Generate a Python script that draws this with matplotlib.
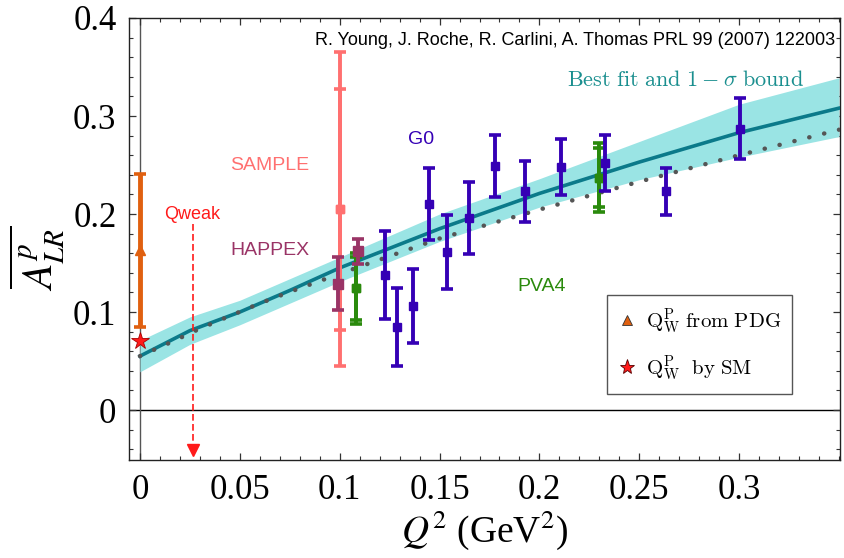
import matplotlib
matplotlib.use("Agg")
import matplotlib.pyplot as plt
from matplotlib.lines import Line2D
from matplotlib.font_manager import FontProperties
from matplotlib.ticker import MultipleLocator

plt.rcParams["font.family"] = ["Liberation Serif", "DejaVu Serif"]
plt.rcParams["mathtext.fontset"] = "stix"

# --- best fit curve + 1-sigma band ---
fit_q2 = [0.0, 0.025, 0.05, 0.075, 0.1, 0.15, 0.2, 0.25, 0.3, 0.35]
fit_a = [0.055, 0.081, 0.100, 0.122, 0.145, 0.185, 0.221, 0.253, 0.283, 0.308]
fit_lo = [0.039, 0.067, 0.087, 0.109, 0.131, 0.172, 0.207, 0.235, 0.258, 0.279]
fit_hi = [0.071, 0.095, 0.112, 0.134, 0.156, 0.200, 0.236, 0.274, 0.312, 0.339]

# dotted (SM running) curve
sm_q2 = [0.0, 0.015, 0.03, 0.045, 0.06, 0.075, 0.1, 0.15, 0.2, 0.25, 0.3, 0.35]
sm_a = [0.055, 0.0687, 0.083, 0.096, 0.1088, 0.1205, 0.139, 0.175, 0.2045, 0.233, 0.260, 0.286]

# --- data sets ---
g0_q2 = [0.1225, 0.1285, 0.1367, 0.1445, 0.1535, 0.1645, 0.178, 0.193, 0.211, 0.233, 0.2635, 0.3005]
g0_a = [0.138, 0.085, 0.106, 0.210, 0.161, 0.196, 0.249, 0.223, 0.248, 0.252, 0.223, 0.287]
g0_err = [0.045, 0.040, 0.038, 0.037, 0.038, 0.037, 0.032, 0.031, 0.029, 0.029, 0.024, 0.031]

sample_q2 = [0.1]
sample_a = [0.205]
sample_err_in = [0.123]
sample_err_out = [0.160]

happex_q2 = [0.0993, 0.1093]
happex_a = [0.129, 0.162]
happex_err = [0.027, 0.013]

pva4_q2 = [0.108, 0.230]
pva4_a = [0.124, 0.237]
pva4_err_out = [0.036, 0.035]
pva4_err_in = [0.032, 0.030]

pdg_q2 = [0.0]
pdg_a = [0.163]
pdg_err = [0.078]

smq_q2 = [0.0]
smq_a = [0.0705]

qweak_q2 = 0.0263
qweak_top = 0.19
qweak_bottom = -0.041

C_TEAL = "#0b7a8a"
C_BAND = "#9ae4e4"
C_G0 = "#3500b5"
C_SAMPLE = "#ff7070"
C_HAPPEX = "#9a3466"
C_PVA4 = "#2a8a0c"
C_PDG = "#e06010"
C_RED = "#ff1a1a"

fig = plt.figure(figsize=(8.44, 5.58), dpi=100)
ax = fig.add_axes([129 / 844, 1 - 460 / 558, (840 - 129) / 844, (460 - 18) / 558])
ax.set_xlim(-0.0055, 0.3505)
ax.set_ylim(-0.051, 0.4)

ax.axhline(0, color="black", lw=1.0, zorder=1)
ax.axvline(0, color="#555555", lw=1.0, zorder=1)

ax.fill_between(fit_q2, fit_lo, fit_hi, color=C_BAND, lw=0, zorder=2)
ax.plot(fit_q2, fit_a, color=C_TEAL, lw=2.6, zorder=3)
ax.plot(sm_q2, sm_a, color="#555555", lw=3.2, ls=(0, (0.05, 3.4)),
        dash_capstyle="round", zorder=3)

eb = dict(fmt="s", capsize=4.6, capthick=2.6, elinewidth=2.8, markersize=6)

ax.errorbar(sample_q2, sample_a, yerr=sample_err_out, color=C_SAMPLE, zorder=4, **eb)
ax.errorbar(sample_q2, sample_a, yerr=sample_err_in, color=C_SAMPLE, zorder=4, **eb)

ax.errorbar(pva4_q2, pva4_a, yerr=pva4_err_out, color=C_PVA4, zorder=5, **eb)
ax.errorbar(pva4_q2, pva4_a, yerr=pva4_err_in, color=C_PVA4, zorder=5, **eb)

ax.errorbar(happex_q2, happex_a, yerr=happex_err, color=C_HAPPEX, zorder=6,
            fmt="s", capsize=4.6, capthick=2.6, elinewidth=2.8, markersize=7)

ax.errorbar(g0_q2, g0_a, yerr=g0_err, color=C_G0, zorder=7, **eb)

ax.errorbar(pdg_q2, pdg_a, yerr=pdg_err, color=C_PDG, fmt="^", capsize=4,
            capthick=2.6, elinewidth=3.5, markersize=7, zorder=6)
ax.plot(smq_q2, smq_a, marker="*", color=C_RED, mec="#aa0000", mew=0.6,
        markersize=13, ls="none", zorder=8)

# Qweak projected point
ax.plot([qweak_q2, qweak_q2], [qweak_top, qweak_bottom + 0.006], color=C_RED,
        lw=1.2, ls=(0, (4, 2)), zorder=4)
ax.plot([qweak_q2], [qweak_bottom], marker="v", color=C_RED, markersize=9,
        ls="none", zorder=4)

# labels
sans = ["Liberation Sans", "DejaVu Sans"]
ax.text(0.0263, 0.2, "Qweak", color=C_RED, fontsize=13, family=sans,
        ha="center", va="center")
ax.text(0.065, 0.249, "SAMPLE", color=C_SAMPLE, fontsize=14, family=sans,
        ha="center", va="center")
ax.text(0.065, 0.163, "HAPPEX", color=C_HAPPEX, fontsize=14, family=sans,
        ha="center", va="center")
ax.text(0.1405, 0.276, "G0", color=C_G0, fontsize=14, family=sans,
        ha="center", va="center")
ax.text(0.201, 0.126, "PVA4", color=C_PVA4, fontsize=14, family=sans,
        ha="center", va="center")
ax.text(0.3483, 0.3775, "R. Young, J. Roche, R. Carlini, A. Thomas PRL 99 (2007) 122003",
        color="black", fontsize=13, family=sans, ha="right", va="center")
ax.text(0.3325, 0.3355, r"$\mathrm{Best\ fit\ and\ 1-}\sigma\mathrm{\ bound}$",
        color="#1a8f8f", fontsize=16, ha="right", va="center", math_fontfamily="cm")

# legend
handles = [
    Line2D([], [], marker="^", color=C_PDG, mec="#333333", mew=0.6, ls="none", markersize=7),
    Line2D([], [], marker="*", color=C_RED, mec="#550000", mew=0.6, ls="none", markersize=11),
]
labels = [r"$\mathrm{Q_W^P\ from\ PDG}$", r"$\mathrm{Q_W^P\ \ by\ SM}$"]
leg = ax.legend(handles, labels, loc="upper left",
                bbox_to_anchor=(607 / 844, 1 - 295 / 558), bbox_transform=fig.transFigure,
                prop=FontProperties(family="serif", size=15, math_fontfamily="cm"),
                frameon=True, fancybox=False, edgecolor="#555555", framealpha=1,
                handlelength=0.8, handletextpad=0.5, labelspacing=0.8,
                borderpad=0.55, borderaxespad=0)
leg.get_frame().set_linewidth(1.0)

# axes / ticks
ax.xaxis.set_major_locator(MultipleLocator(0.05))
ax.xaxis.set_minor_locator(MultipleLocator(0.01))
ax.yaxis.set_major_locator(MultipleLocator(0.1))
ax.yaxis.set_minor_locator(MultipleLocator(0.02))
ax.tick_params(which="both", direction="in", top=True, right=True, color="#333333")
ax.tick_params(which="major", length=5, width=0.9)
ax.tick_params(which="minor", length=3, width=0.8)
ax.tick_params(axis="x", labelsize=25, pad=10)
ax.tick_params(axis="y", labelsize=25, pad=9)
ax.set_xticks([0, 0.05, 0.1, 0.15, 0.2, 0.25, 0.3])
ax.set_xticklabels(["0", "0.05", "0.1", "0.15", "0.2", "0.25", "0.3"])
ax.set_yticks([0, 0.1, 0.2, 0.3, 0.4])
ax.set_yticklabels(["0", "0.1", "0.2", "0.3", "0.4"])
for s in ax.spines.values():
    s.set_linewidth(1.0)
    s.set_color("#222222")

fig.text(485 / 844, 1 - 530 / 558, r"$Q^2$ (GeV$^2$)", fontsize=27,
         ha="center", va="center")
fig.text(37 / 844, 1 - 258 / 558, r"$\overline{A_{LR}^{p}}$", fontsize=30,
         rotation=90, ha="center", va="center")

fig.savefig("out.png", dpi=100)
